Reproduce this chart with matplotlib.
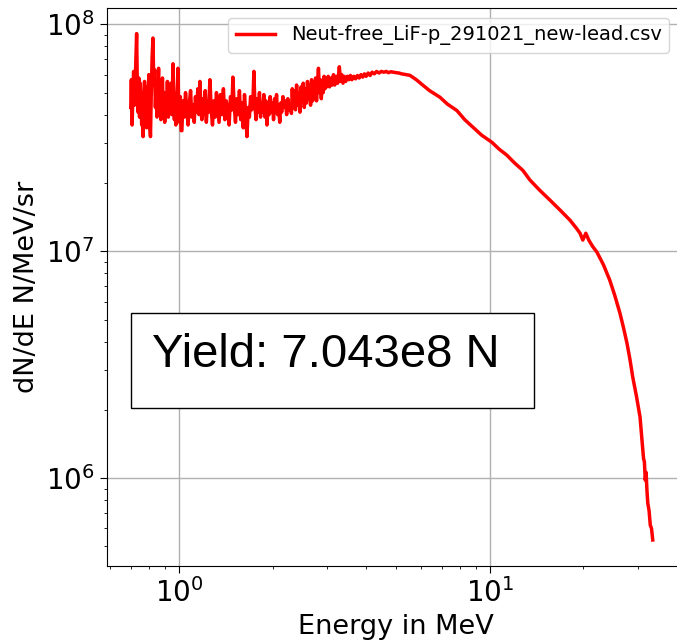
import numpy as np
import matplotlib
matplotlib.use("Agg")
import matplotlib.pyplot as plt
from matplotlib.patches import Rectangle

# ---- data (values in units of 1e7 N/MeV/sr) ----
energy_a = [0.700, 0.703, 0.707, 0.711, 0.715, 0.719, 0.723, 0.727, 0.731, 0.735,
            0.739, 0.743, 0.747, 0.751, 0.755, 0.759, 0.763, 0.767, 0.771, 0.775,
            0.779, 0.783, 0.787, 0.791, 0.795, 0.800, 0.805, 0.810, 0.815, 0.820,
            0.825, 0.830, 0.835, 0.840, 0.845, 0.850, 0.855, 0.860, 0.865, 0.870,
            0.875, 0.880, 0.885, 0.890, 0.895, 0.900, 0.906, 0.912, 0.918, 0.924,
            0.930, 0.936, 0.942, 0.948, 0.953, 0.957, 0.962, 0.967, 0.972, 0.977,
            0.982, 0.987, 0.993, 0.998, 1.004, 1.010, 1.016, 1.022]
flux_a = [4.3, 5.7, 3.6, 5.0, 6.2, 4.4, 5.4, 6.9, 9.1, 5.2,
          4.1, 5.8, 3.9, 5.5, 4.6, 3.6, 5.0, 3.2, 4.4, 5.6,
          3.9, 4.9, 3.5, 5.3, 4.2, 6.0, 3.6, 3.2, 5.1, 7.2,
          8.7, 5.4, 6.3, 4.3, 5.5, 3.9, 4.9, 6.4, 4.0, 5.2,
          3.8, 4.6, 5.8, 4.1, 5.0, 3.7, 4.8, 4.2, 5.6, 3.9,
          4.7, 4.1, 5.5, 4.0, 5.1, 6.7, 4.4, 3.8, 4.9, 3.6,
          4.5, 5.2, 6.4, 4.3, 3.7, 4.8, 3.4, 3.4]

energy_b = [1.030, 1.040, 1.050, 1.060, 1.070, 1.080, 1.090, 1.100, 1.110, 1.120,
            1.130, 1.140, 1.150, 1.160, 1.168, 1.176, 1.185, 1.195, 1.205, 1.215,
            1.225, 1.235, 1.245, 1.258, 1.270, 1.282, 1.295, 1.308, 1.320, 1.333,
            1.346, 1.360, 1.375, 1.390, 1.405, 1.420, 1.435, 1.450, 1.465, 1.480,
            1.491, 1.505, 1.520, 1.535, 1.550, 1.565, 1.580, 1.595, 1.610, 1.625,
            1.640, 1.655, 1.670, 1.685, 1.700, 1.715, 1.730, 1.742, 1.755, 1.770,
            1.785, 1.800, 1.815, 1.830, 1.845, 1.860, 1.875, 1.890, 1.905, 1.919,
            1.935, 1.950, 1.965, 1.980, 2.000, 2.015, 2.030, 2.045, 2.060, 2.075,
            2.090, 2.110, 2.125, 2.140, 2.160, 2.180, 2.200, 2.220, 2.240, 2.260,
            2.280, 2.300]
flux_b = [4.6, 3.9, 5.0, 4.2, 3.6, 4.5, 5.1, 3.9, 4.4, 3.7,
          4.8, 4.1, 5.2, 4.0, 5.6, 4.3, 3.8, 4.7, 4.0, 5.1,
          3.7, 4.5, 4.1, 5.7, 4.2, 3.6, 4.6, 3.9, 5.0, 4.3,
          3.7, 4.9, 4.0, 5.2, 3.8, 4.6, 4.1, 3.6, 4.8, 4.2,
          5.85, 4.4, 3.7, 4.7, 4.0, 5.1, 3.8, 4.5, 3.5, 4.9,
          4.0, 3.2, 4.3, 3.9, 4.8, 4.2, 4.6, 6.2, 4.4, 3.8,
          4.7, 4.1, 5.0, 3.9, 4.5, 4.1, 4.9, 3.9, 4.6, 3.6,
          4.4, 4.0, 4.8, 4.1, 4.5, 3.8, 4.7, 4.2, 4.9, 4.0,
          4.4, 3.7, 4.5, 4.1, 4.8, 4.3, 4.6, 4.0, 4.7, 4.2,
          4.4, 4.05]

energy_c = [2.315, 2.330, 2.350, 2.370, 2.390, 2.410, 2.430, 2.450, 2.470, 2.490,
            2.510, 2.530, 2.550, 2.570, 2.590, 2.610, 2.630, 2.650, 2.670, 2.690,
            2.710, 2.730, 2.750, 2.770, 2.790, 2.810, 2.830, 2.850, 2.870, 2.890,
            2.910, 2.930, 2.950, 2.970, 2.990, 3.020, 3.050, 3.080, 3.110, 3.140,
            3.170, 3.200, 3.240, 3.280, 3.310, 3.340, 3.370, 3.400, 3.440, 3.480,
            3.520, 3.560, 3.600, 3.650, 3.700, 3.750, 3.800, 3.850, 3.900, 3.950,
            4.000, 4.060, 4.120, 4.180, 4.250, 4.320, 4.400, 4.480, 4.560, 4.640,
            4.720, 4.800, 4.900, 5.000, 5.100, 5.200]
flux_c = [5.2, 4.3, 5.1, 4.2, 5.4, 4.4, 5.0, 4.1, 5.3, 4.6,
          5.5, 4.3, 5.2, 4.5, 5.6, 4.7, 5.4, 4.4, 5.7, 4.6,
          5.5, 4.8, 5.8, 4.6, 5.5, 6.4, 5.0, 5.7, 4.7, 5.6,
          5.0, 5.9, 5.2, 5.8, 5.3, 5.9, 5.3, 5.8, 5.4, 6.0,
          5.4, 5.9, 5.5, 6.5, 5.6, 6.0, 5.5, 5.9, 5.6, 5.9,
          5.7, 5.95, 5.7, 5.9, 5.75, 5.95, 5.8, 6.0, 5.85, 6.05,
          5.9, 6.1, 5.95, 6.15, 6.05, 6.2, 6.1, 6.2, 6.15, 6.2,
          6.12, 6.18, 6.15, 6.12, 6.1, 6.05]

energy_d = [5.30, 5.53, 5.80, 6.09, 6.40, 6.91, 7.30, 7.83, 8.30, 8.82,
            9.40, 10.15, 10.70, 11.34, 12.00, 12.77, 13.45, 14.50, 15.60, 16.80,
            18.10, 19.00, 19.50, 19.90, 20.35, 20.80, 21.40, 22.10, 23.20, 24.30,
            25.20, 26.20, 26.90, 27.60, 28.20, 28.80, 29.60, 30.40, 30.80, 31.00,
            31.20, 31.40, 31.60, 31.80, 32.00, 32.20, 32.50, 32.80, 33.10, 33.40]
flux_d = [6.02, 5.96, 5.70, 5.39, 5.10, 4.77, 4.45, 4.17, 3.80, 3.52,
          3.25, 3.02, 2.82, 2.65, 2.45, 2.27, 2.06, 1.85, 1.68, 1.52,
          1.37, 1.26, 1.20, 1.12, 1.20, 1.12, 1.05, 0.99, 0.87, 0.745,
          0.64, 0.533, 0.46, 0.393, 0.335, 0.279, 0.23, 0.186, 0.15, 0.135,
          0.122, 0.118, 0.098, 0.106, 0.088, 0.0775, 0.072, 0.062, 0.060, 0.0534]

label = "Neut-free_LiF-p_291021_new-lead.csv"
yield_text = "Yield: 7.043e8 N"

energy = np.array(energy_a + energy_b + energy_c + energy_d)
flux = np.array(flux_a + flux_b + flux_c + flux_d) * 1e7

fig = plt.figure(figsize=(6.77, 6.40), dpi=100)
ax = fig.add_axes([107/677, 74/640, 577/677, 558/640])
ax.plot(energy, flux, color="red", lw=2.5, label=label)
ax.set_xscale("log")
ax.set_yscale("log")
ax.set_xlim(0.587, 42.1)
ax.set_ylim(4.1e5, 1.18e8)
ax.grid(True, which="major", color="#b0b0b0", lw=1.0)
ax.tick_params(axis="both", which="major", labelsize=20, length=5, pad=4)
ax.tick_params(axis="both", which="minor", length=2.5)
ax.set_xlabel("Energy in MeV", fontsize=19.5)
ax.set_ylabel("dN/dE N/MeV/sr", fontsize=19.5)
ax.legend(loc="upper right", bbox_to_anchor=(572/577, 1.0), fontsize=14)

ax.add_patch(Rectangle((24/577, 0.283), 403/577, 0.1705, transform=ax.transAxes,
                       facecolor="white", edgecolor="black", lw=1.0, zorder=5))
ax.text(45/577, 0.3566, yield_text, transform=ax.transAxes, fontsize=34,
        family="Liberation Sans", va="baseline", ha="left", zorder=6)

fig.savefig("out.png", dpi=100)
